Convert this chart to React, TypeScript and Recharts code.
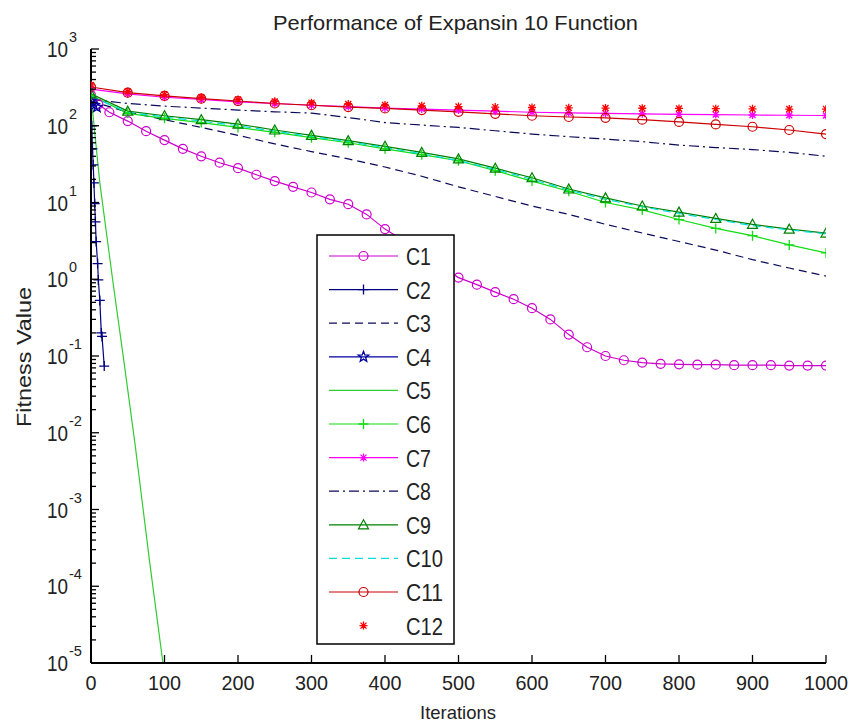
import React from 'react';
import { LineChart, Line, XAxis, YAxis, Legend } from 'recharts';

// iteration grid used by most curves
const ITERS = [0, 50, 100, 150, 200, 250, 300, 350, 400, 450, 500, 550, 600, 650, 700, 750, 800, 850, 900, 950, 1000];

const C1_ITER = [0, 10, 25, 50, 75, 100, 125, 150, 175, 200, 225, 250, 275, 300, 325, 350, 375, 400, 425, 450, 475, 500,
  525, 550, 575, 600, 625, 650, 675, 700, 725, 750, 775, 800, 825, 850, 875, 900, 925, 950, 975, 1000];
const C1_VAL = [250, 190, 150, 115, 85, 65, 50, 40, 33, 28, 23, 19, 16, 13.5, 11, 9.5, 7, 4.5, 3.2, 2.2, 1.5, 1.05,
  0.85, 0.68, 0.55, 0.42, 0.3, 0.19, 0.13, 0.1, 0.088, 0.082, 0.079, 0.078, 0.077, 0.077, 0.076, 0.076, 0.076, 0.075, 0.075, 0.075];

const C2_ITER = [0, 1, 2, 3, 4, 5, 6, 7, 9, 10, 12, 14, 15, 18];
const C2_VAL = [190, 100, 50, 31, 18, 9.7, 5.6, 3.1, 1.6, 0.98, 0.53, 0.2, 0.18, 0.074];

const C3_VAL = [210, 150, 120, 95, 75, 58, 46, 37, 29, 22, 16, 12, 9, 7, 5.2, 4, 3.1, 2.4, 1.8, 1.4, 1.1];

const C4_ITER = [0, 4, 8];
const C4_VAL = [210, 185, 175];

const C5_ITER = [0, 12, 30, 46, 60, 80, 100];
const C5_VAL = [250, 18, 0.9, 0.07, 0.007, 0.0002, 0.000007];

const C6_VAL = [250, 145, 125, 110, 95, 82, 70, 60, 50, 42, 35, 26, 19, 14, 10, 8, 6, 4.6, 3.7, 2.8, 2.2];
const C7_VAL = [300, 260, 235, 220, 205, 195, 185, 178, 170, 165, 160, 155, 150, 147, 145, 143, 141, 140, 138, 137, 136];
const C8_VAL = [220, 195, 180, 170, 160, 152, 146, 128, 110, 102, 95, 86, 78, 72, 67, 62, 56, 52, 49, 45, 40];
const C9_VAL = [260, 155, 135, 120, 105, 88, 75, 64, 54, 45, 37, 28, 21, 15, 11.5, 9, 7.5, 6.2, 5.2, 4.5, 4];
const C10_VAL = [240, 150, 130, 115, 100, 85, 72, 62, 52, 43, 35, 27, 20, 14.5, 11, 8.8, 7.2, 6, 5, 4.4, 3.9];
const C11_VAL = [320, 270, 245, 225, 210, 195, 185, 175, 168, 160, 152, 143, 135, 130, 127, 120, 112, 104, 97, 88, 78];
const C12_VAL = [340, 280, 255, 235, 220, 208, 200, 192, 186, 182, 178, 175, 173, 171, 170, 169, 168, 167, 166, 165, 165];

const X_TICKS = [0, 100, 200, 300, 400, 500, 600, 700, 800, 900, 1000];
const Y_EXPONENTS = [-5, -4, -3, -2, -1, 0, 1, 2, 3];

const TITLE = 'Performance of Expansin 10 Function';

const PLOT_LEFT = 91;
const PLOT_RIGHT = 826;
const PLOT_TOP = 49;
const PLOT_BOTTOM = 663;
const FONT = '"Liberation Sans", Arial, sans-serif';

const Y_TICKS: number[] = [];
Y_EXPONENTS.forEach((e) => {
  Y_TICKS.push(Math.pow(10, e));
  if (e < 3) for (let m = 2; m <= 9; m++) Y_TICKS.push(m * Math.pow(10, e));
});

const pts = (xs: number[], ys: number[]) => xs.map((x, i) => ({ x, y: ys[i] }));

type Kind = 'none' | 'circle' | 'plus' | 'star' | 'asterisk' | 'triangle';

function Marker({ kind, cx, cy, color }: { kind: Kind; cx: number; cy: number; color: string }) {
  if (kind === 'circle') return <circle cx={cx} cy={cy} r={4.5} fill="none" stroke={color} strokeWidth={1.2} />;
  if (kind === 'plus')
    return <path d={`M${cx - 5},${cy}H${cx + 5}M${cx},${cy - 5}V${cy + 5}`} stroke={color} strokeWidth={1.3} />;
  if (kind === 'asterisk')
    return (
      <path
        d={`M${cx - 4},${cy}H${cx + 4}M${cx},${cy - 4}V${cy + 4}M${cx - 3},${cy - 3}L${cx + 3},${cy + 3}M${cx - 3},${cy + 3}L${cx + 3},${cy - 3}`}
        stroke={color}
        strokeWidth={1.3}
      />
    );
  if (kind === 'triangle')
    return <polygon points={`${cx},${cy - 5} ${cx - 5},${cy + 4} ${cx + 5},${cy + 4}`} fill="none" stroke={color} strokeWidth={1.2} />;
  if (kind === 'star') {
    const p: string[] = [];
    for (let i = 0; i < 10; i++) {
      const r = i % 2 === 0 ? 5.5 : 2.3;
      const a = -Math.PI / 2 + (i * Math.PI) / 5;
      p.push(`${cx + r * Math.cos(a)},${cy + r * Math.sin(a)}`);
    }
    return <polygon points={p.join(' ')} fill="none" stroke={color} strokeWidth={1.3} />;
  }
  return null;
}

const SERIES = [
  { name: 'C1', data: pts(C1_ITER, C1_VAL), color: '#cc00cc', dash: undefined, marker: 'circle' as Kind },
  { name: 'C2', data: pts(C2_ITER, C2_VAL), color: '#000080', dash: undefined, marker: 'plus' as Kind },
  { name: 'C3', data: pts(ITERS, C3_VAL), color: '#0a0a5a', dash: '8 5', marker: 'none' as Kind },
  { name: 'C4', data: pts(C4_ITER, C4_VAL), color: '#0000a0', dash: undefined, marker: 'star' as Kind },
  { name: 'C5', data: pts(C5_ITER, C5_VAL), color: '#33cc33', dash: undefined, marker: 'none' as Kind },
  { name: 'C6', data: pts(ITERS, C6_VAL), color: '#11dd11', dash: undefined, marker: 'plus' as Kind },
  { name: 'C7', data: pts(ITERS, C7_VAL), color: '#ff00ff', dash: undefined, marker: 'asterisk' as Kind },
  { name: 'C8', data: pts(ITERS, C8_VAL), color: '#0a0a5a', dash: '10 4 2 4', marker: 'none' as Kind },
  { name: 'C9', data: pts(ITERS, C9_VAL), color: '#008000', dash: undefined, marker: 'triangle' as Kind },
  { name: 'C10', data: pts(ITERS, C10_VAL), color: '#00dddd', dash: '8 5', marker: 'none' as Kind },
  { name: 'C11', data: pts(ITERS, C11_VAL), color: '#cc0000', dash: undefined, marker: 'circle' as Kind },
  { name: 'C12', data: pts(ITERS, C12_VAL), color: '#ff0000', dash: 'none', marker: 'asterisk' as Kind },
];

const isMajor = (v: number) => {
  const e = Math.log10(v);
  return Math.abs(e - Math.round(e)) < 1e-6;
};

function XTickBottom(props: any) {
  const { x, payload } = props;
  const label = String(payload.value);
  return (
    <g>
      <line x1={x} x2={x} y1={PLOT_BOTTOM} y2={PLOT_BOTTOM - 8} stroke="#000" strokeWidth={1.3} />
      <text x={x} y={690} textAnchor="middle" fontSize={21} fontFamily={FONT} fill="#222"
        textLength={label.length * 11} lengthAdjust="spacingAndGlyphs">{label}</text>
    </g>
  );
}

function XTickTop(props: any) {
  const { x } = props;
  return <line x1={x} x2={x} y1={PLOT_TOP} y2={PLOT_TOP + 8} stroke="#000" strokeWidth={1.3} />;
}

function YTickLeft(props: any) {
  const { y, payload } = props;
  const v = payload.value;
  const major = isMajor(v);
  const e = String(Math.round(Math.log10(v)));
  return (
    <g>
      <line x1={PLOT_LEFT} x2={PLOT_LEFT + (major ? 8 : 5)} y1={y} y2={y} stroke="#000" strokeWidth={1.3} />
      {major && (
        <text x={47} y={y + 8} fontSize={22} fontFamily={FONT} fill="#222">
          <tspan textLength={21} lengthAdjust="spacingAndGlyphs">10</tspan>
          <tspan dx={1} dy={-15} fontSize={15} textLength={e.length > 1 ? 13 : 8}
            lengthAdjust="spacingAndGlyphs">{e}</tspan>
        </text>
      )}
    </g>
  );
}

function YTickRight(props: any) {
  const { y, payload } = props;
  const major = isMajor(payload.value);
  return <line x1={PLOT_RIGHT} x2={PLOT_RIGHT - (major ? 8 : 5)} y1={y} y2={y} stroke="#000" strokeWidth={1.3} />;
}

function LegendBox() {
  return (
    <svg width={140} height={412} style={{ display: 'block' }}>
      <rect x={1} y={1} width={137} height={409} fill="#fff" stroke="#000" strokeWidth={1.5} />
      {SERIES.map((s, i) => {
        const cy = 22 + i * 33.6;
        return (
          <g key={s.name}>
            <line x1={13} x2={82} y1={cy} y2={cy} stroke={s.color} strokeWidth={1.2}
              strokeDasharray={s.dash} strokeOpacity={s.dash === 'none' ? 0 : 1} />
            <Marker kind={s.marker} cx={47.5} cy={cy} color={s.color} />
            <text x={90} y={cy + 9} fontSize={24} fontFamily={FONT} fill="#222"
              textLength={s.name.length === 2 ? 25 : 37} lengthAdjust="spacingAndGlyphs">{s.name}</text>
          </g>
        );
      })}
    </svg>
  );
}

export default function App() {
  return (
    <div style={{ position: 'absolute', left: 0, top: 0, width: 851, height: 726, background: '#fff' }}>
      <LineChart width={851} height={726} margin={{ top: PLOT_TOP, right: 851 - PLOT_RIGHT, bottom: 0, left: 0 }}>
        <XAxis xAxisId="b" dataKey="x" type="number" domain={[0, 1000]} ticks={X_TICKS} interval={0}
          tick={(p: any) => <XTickBottom {...p} />} tickLine={false} axisLine={{ stroke: '#000', strokeWidth: 2 }}
          height={726 - PLOT_BOTTOM} allowDataOverflow />
        <XAxis xAxisId="t" orientation="top" dataKey="x" type="number" domain={[0, 1000]} ticks={X_TICKS} interval={0}
          tick={(p: any) => <XTickTop {...p} />} tickLine={false} axisLine={{ stroke: '#000', strokeWidth: 2 }}
          height={0} allowDataOverflow />
        <YAxis yAxisId="l" type="number" scale="log" domain={[1e-5, 1000]} ticks={Y_TICKS} interval={0}
          tick={(p: any) => <YTickLeft {...p} />} tickLine={false} axisLine={{ stroke: '#000', strokeWidth: 2 }}
          width={PLOT_LEFT} allowDataOverflow />
        <YAxis yAxisId="r" orientation="right" type="number" scale="log" domain={[1e-5, 1000]} ticks={Y_TICKS}
          interval={0} tick={(p: any) => <YTickRight {...p} />} tickLine={false}
          axisLine={{ stroke: '#000', strokeWidth: 2 }} width={0} allowDataOverflow />
        {SERIES.map((s) => (
          <Line
            key={s.name}
            xAxisId="b"
            yAxisId="l"
            data={s.data}
            dataKey="y"
            name={s.name}
            type="linear"
            stroke={s.color}
            strokeWidth={1.2}
            strokeDasharray={s.dash === 'none' ? undefined : s.dash}
            strokeOpacity={s.dash === 'none' ? 0 : 1}
            dot={s.marker === 'none' ? false : (p: any) => (
              <Marker key={`${s.name}-${p.index}`} kind={s.marker} cx={p.cx} cy={p.cy} color={s.color} />
            )}
            activeDot={false}
            isAnimationActive={false}
          />
        ))}
        <Legend layout="vertical" align="center" verticalAlign="middle" content={() => <LegendBox />}
          wrapperStyle={{ position: 'absolute', left: 316, top: 234, width: 140, height: 412 }} />
      </LineChart>
      <svg width={851} height={726} style={{ position: 'absolute', left: 0, top: 0, pointerEvents: 'none' }}>
        <text x={455.5} y={30} textAnchor="middle" fontSize={21} fontFamily={FONT} fill="#222"
          textLength={365} lengthAdjust="spacingAndGlyphs">{TITLE}</text>
        <text x={458} y={719} textAnchor="middle" fontSize={19} fontFamily={FONT} fill="#222"
          textLength={76} lengthAdjust="spacingAndGlyphs">Iterations</text>
        <text x={31} y={357} transform="rotate(-90 31 357)" textAnchor="middle" fontSize={20} fontFamily={FONT}
          fill="#222" textLength={140} lengthAdjust="spacingAndGlyphs">Fitness Value</text>
      </svg>
    </div>
  );
}
